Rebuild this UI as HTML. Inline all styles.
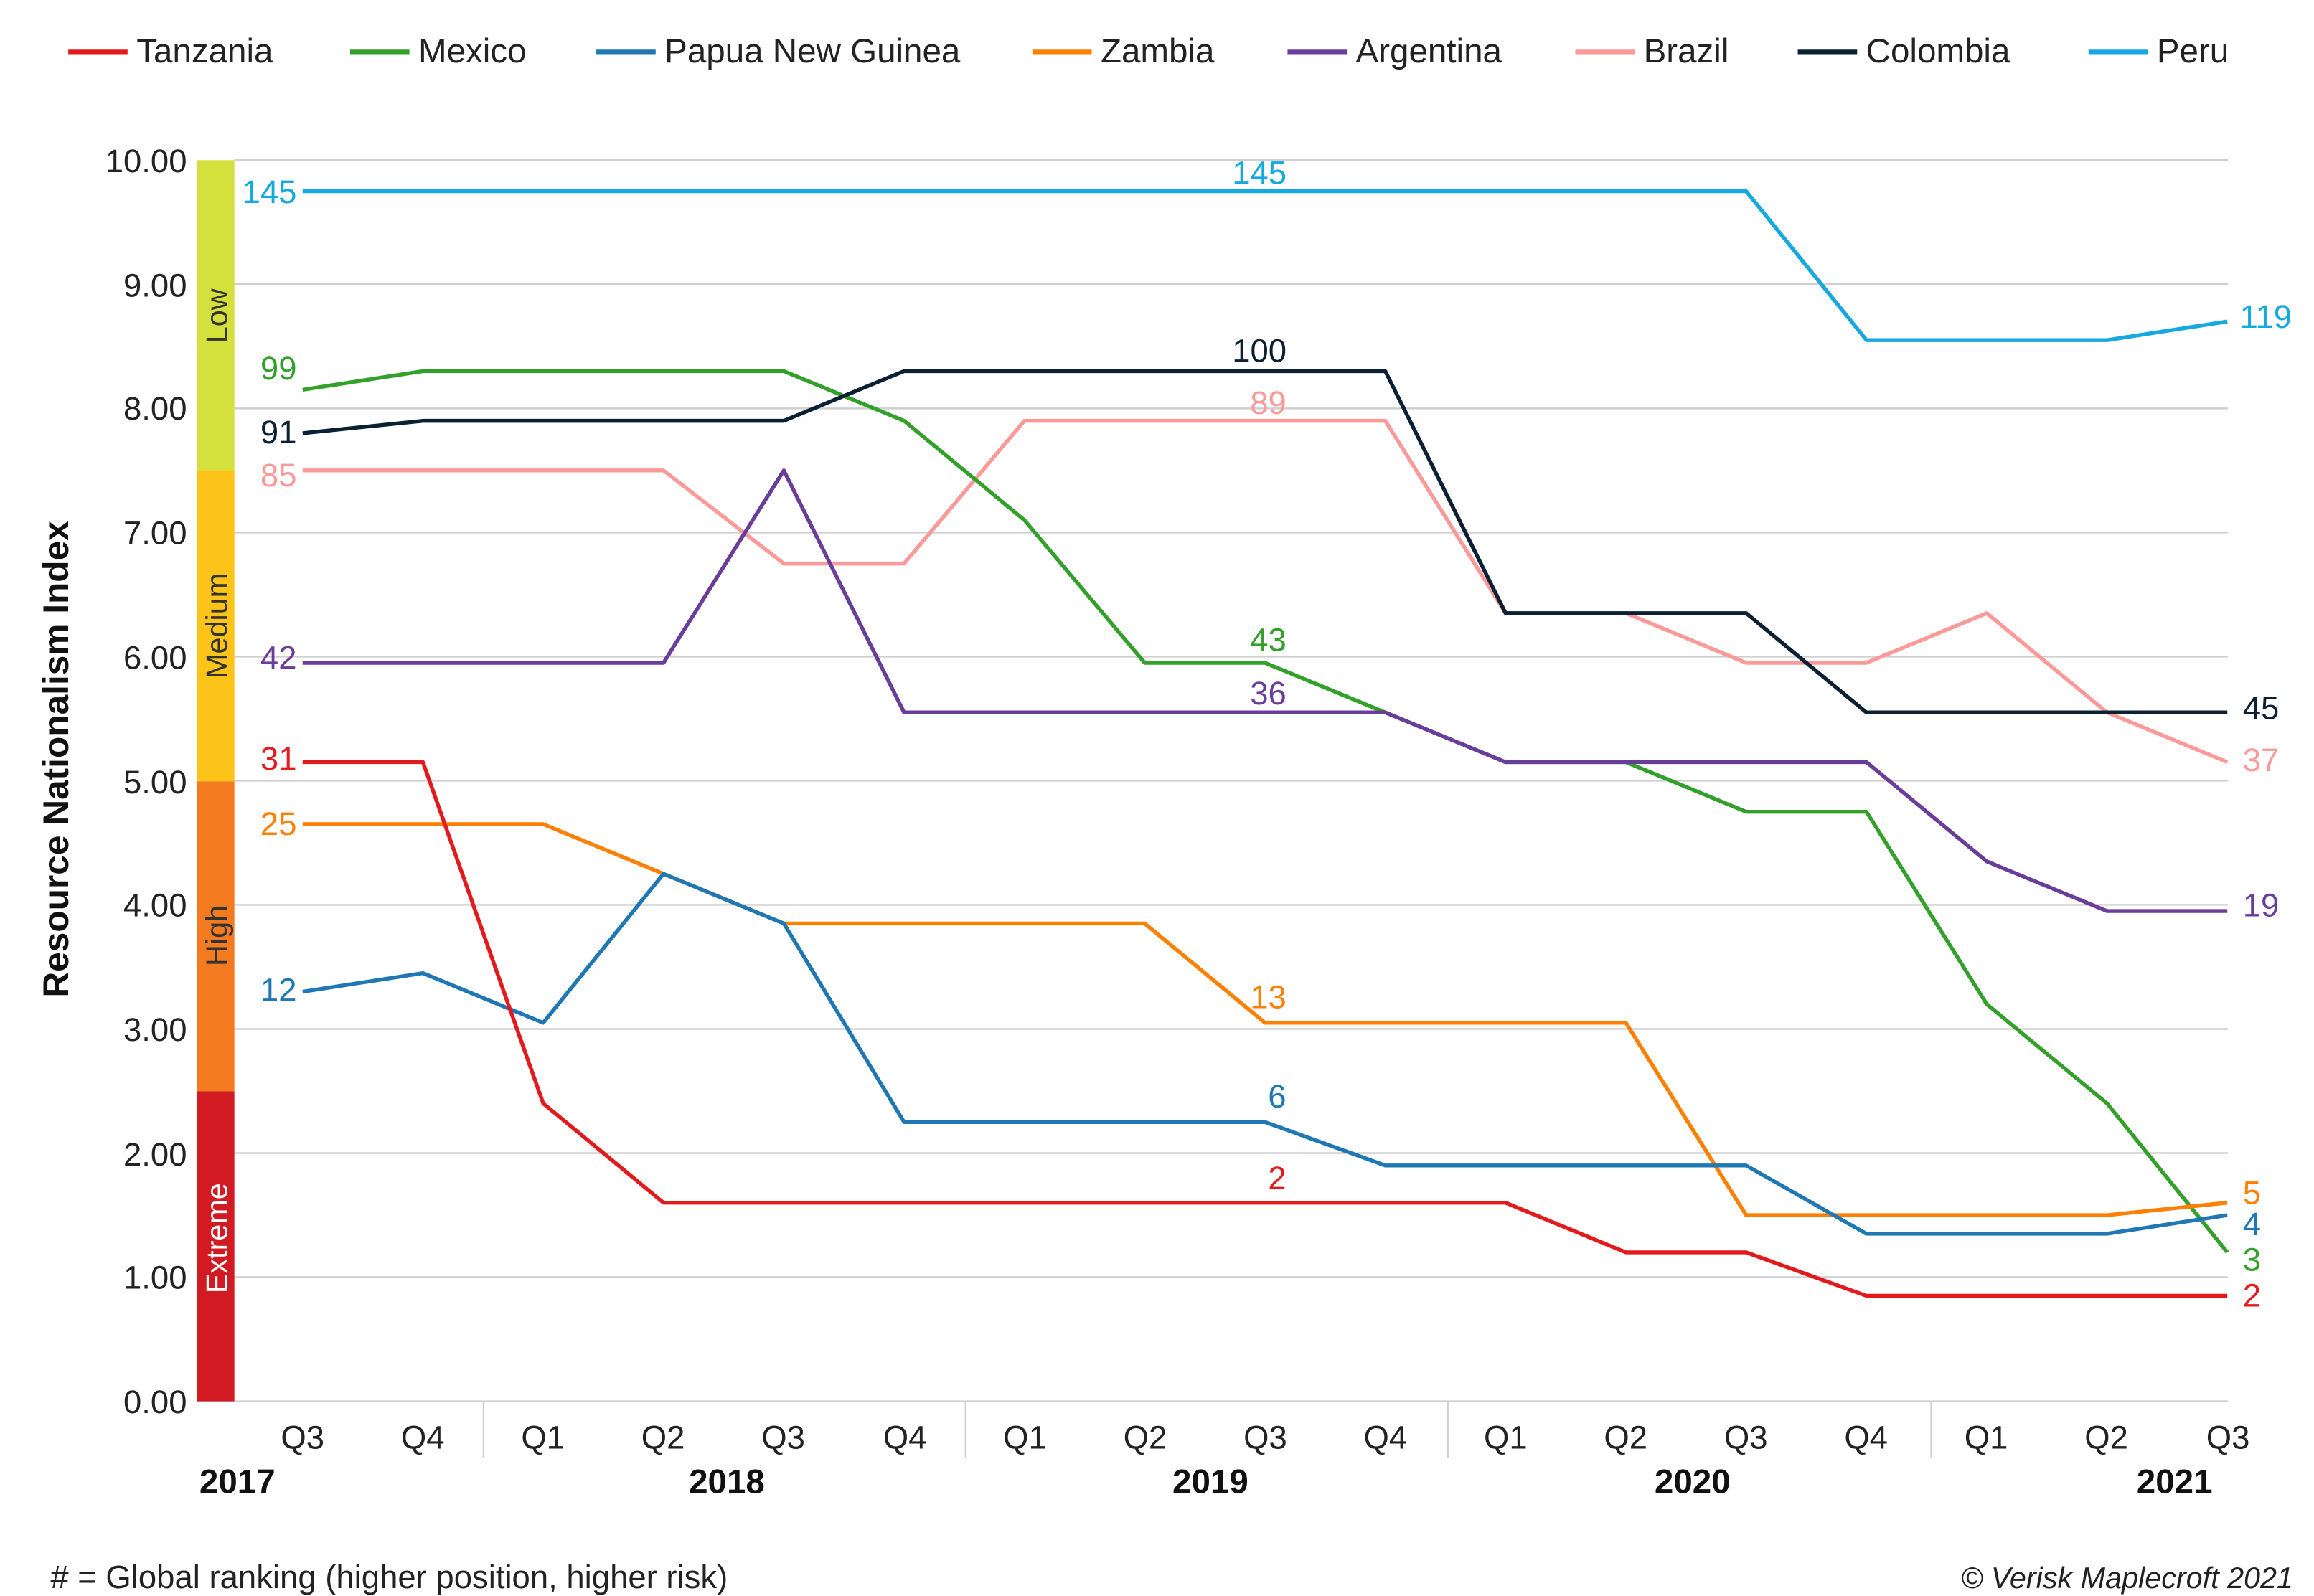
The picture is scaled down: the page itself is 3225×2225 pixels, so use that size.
<!DOCTYPE html>
<html><head><meta charset="utf-8"><style>
html,body{margin:0;padding:0;background:#fff}
svg{display:block}
text{font-family:"Liberation Sans",sans-serif}
</style></head><body>
<svg width="3225" height="2225" viewBox="0 0 1560 1076.3" xmlns="http://www.w3.org/2000/svg">
<rect width="1560" height="1077" fill="#fff"/>
<g font-size="23" fill="#222">
<line x1="46" y1="35" x2="86" y2="35" stroke="#e31a1c" stroke-width="3"/><text x="92" y="42">Tanzania</text>
<line x1="236" y1="35" x2="276" y2="35" stroke="#33a02c" stroke-width="3"/><text x="282" y="42">Mexico</text>
<line x1="402" y1="35" x2="442" y2="35" stroke="#1f78b4" stroke-width="3"/><text x="448" y="42">Papua New Guinea</text>
<line x1="696" y1="35" x2="736" y2="35" stroke="#ff7f00" stroke-width="3"/><text x="742" y="42">Zambia</text>
<line x1="868" y1="35" x2="908" y2="35" stroke="#6a3d9a" stroke-width="3"/><text x="914" y="42">Argentina</text>
<line x1="1062" y1="35" x2="1102" y2="35" stroke="#fb9a99" stroke-width="3"/><text x="1108" y="42">Brazil</text>
<line x1="1212" y1="35" x2="1252" y2="35" stroke="#0b2133" stroke-width="3"/><text x="1258" y="42">Colombia</text>
<line x1="1408" y1="35" x2="1448" y2="35" stroke="#16a9e0" stroke-width="3"/><text x="1454" y="42">Peru</text>
</g>
<g stroke="#cfcfcf" stroke-width="1.2">
<line x1="158" x2="1502" y1="108" y2="108"/><line x1="158" x2="1502" y1="191.7" y2="191.7"/>
<line x1="158" x2="1502" y1="275.4" y2="275.4"/><line x1="158" x2="1502" y1="359.1" y2="359.1"/>
<line x1="158" x2="1502" y1="442.8" y2="442.8"/><line x1="158" x2="1502" y1="526.5" y2="526.5"/>
<line x1="158" x2="1502" y1="610.2" y2="610.2"/><line x1="158" x2="1502" y1="693.9" y2="693.9"/>
<line x1="158" x2="1502" y1="777.6" y2="777.6"/><line x1="158" x2="1502" y1="861.3" y2="861.3"/>
<line x1="133" x2="1502" y1="945" y2="945"/>
<line x1="326" x2="326" y1="945" y2="983"/><line x1="651" x2="651" y1="945" y2="983"/>
<line x1="976" x2="976" y1="945" y2="983"/><line x1="1302" x2="1302" y1="945" y2="983"/>
</g>
<rect x="133" y="108" width="25" height="209" fill="#d4e03c"/>
<rect x="133" y="317" width="25" height="210" fill="#fcc418"/>
<rect x="133" y="527" width="25" height="209" fill="#f47b20"/>
<rect x="133" y="736" width="25" height="209" fill="#d11a21"/>
<g font-size="20">
<text transform="translate(153,213) rotate(-90)" text-anchor="middle" fill="#333">Low</text>
<text transform="translate(153,422) rotate(-90)" text-anchor="middle" fill="#333">Medium</text>
<text transform="translate(153,631) rotate(-90)" text-anchor="middle" fill="#333">High</text>
<text transform="translate(153,835) rotate(-90)" text-anchor="middle" fill="#fff">Extreme</text>
</g>
<g font-size="22" fill="#222" text-anchor="end">
<text x="126" y="116">10.00</text><text x="126" y="200">9.00</text><text x="126" y="283">8.00</text>
<text x="126" y="367">7.00</text><text x="126" y="451">6.00</text><text x="126" y="535">5.00</text>
<text x="126" y="618">4.00</text><text x="126" y="702">3.00</text><text x="126" y="786">2.00</text>
<text x="126" y="869">1.00</text><text x="126" y="953">0.00</text>
</g>
<text transform="translate(46,512) rotate(-90)" text-anchor="middle" font-size="24" font-weight="bold" fill="#111">Resource Nationalism Index</text>
<g font-size="22" fill="#222" text-anchor="middle">
<text x="204" y="977">Q3</text><text x="285" y="977">Q4</text><text x="366" y="977">Q1</text><text x="447" y="977">Q2</text>
<text x="528" y="977">Q3</text><text x="610" y="977">Q4</text><text x="691" y="977">Q1</text><text x="772" y="977">Q2</text>
<text x="853" y="977">Q3</text><text x="934" y="977">Q4</text><text x="1015" y="977">Q1</text><text x="1096" y="977">Q2</text>
<text x="1177" y="977">Q3</text><text x="1258" y="977">Q4</text><text x="1339" y="977">Q1</text><text x="1420" y="977">Q2</text>
<text x="1502" y="977">Q3</text>
</g>
<g font-size="23" font-weight="bold" fill="#111" text-anchor="middle">
<text x="160" y="1007">2017</text><text x="490" y="1007">2018</text><text x="816" y="1007">2019</text>
<text x="1141" y="1007">2020</text><text x="1466" y="1007">2021</text>
</g>
<g transform="matrix(1,0,0,-83.7,0,945)" fill="none" stroke-width="5.4" stroke-linejoin="round">
<polyline vector-effect="non-scaling-stroke" stroke="#16a9e0" points="204,9.75 285.1,9.75 366.2,9.75 447.3,9.75 528.4,9.75 609.5,9.75 690.6,9.75 771.7,9.75 852.8,9.75 933.9,9.75 1015,9.75 1096.1,9.75 1177.2,9.75 1258.3,8.55 1339.4,8.55 1420.5,8.55 1501.6,8.7"/>
<polyline vector-effect="non-scaling-stroke" stroke="#fb9a99" points="204,7.5 285.1,7.5 366.2,7.5 447.3,7.5 528.4,6.75 609.5,6.75 690.6,7.9 771.7,7.9 852.8,7.9 933.9,7.9 1015,6.35 1096.1,6.35 1177.2,5.95 1258.3,5.95 1339.4,6.35 1420.5,5.55 1501.6,5.15"/>
<polyline vector-effect="non-scaling-stroke" stroke="#33a02c" points="204,8.15 285.1,8.3 366.2,8.3 447.3,8.3 528.4,8.3 609.5,7.9 690.6,7.1 771.7,5.95 852.8,5.95 933.9,5.55 1015,5.15 1096.1,5.15 1177.2,4.75 1258.3,4.75 1339.4,3.2 1420.5,2.4 1501.6,1.2"/>
<polyline vector-effect="non-scaling-stroke" stroke="#0b2133" points="204,7.8 285.1,7.9 366.2,7.9 447.3,7.9 528.4,7.9 609.5,8.3 690.6,8.3 771.7,8.3 852.8,8.3 933.9,8.3 1015,6.35 1096.1,6.35 1177.2,6.35 1258.3,5.55 1339.4,5.55 1420.5,5.55 1501.6,5.55"/>
<polyline vector-effect="non-scaling-stroke" stroke="#6a3d9a" points="204,5.95 285.1,5.95 366.2,5.95 447.3,5.95 528.4,7.5 609.5,5.55 690.6,5.55 771.7,5.55 852.8,5.55 933.9,5.55 1015,5.15 1096.1,5.15 1177.2,5.15 1258.3,5.15 1339.4,4.35 1420.5,3.95 1501.6,3.95"/>
<polyline vector-effect="non-scaling-stroke" stroke="#ff7f00" points="204,4.65 285.1,4.65 366.2,4.65 447.3,4.25 528.4,3.85 609.5,3.85 690.6,3.85 771.7,3.85 852.8,3.05 933.9,3.05 1015,3.05 1096.1,3.05 1177.2,1.5 1258.3,1.5 1339.4,1.5 1420.5,1.5 1501.6,1.6"/>
<polyline vector-effect="non-scaling-stroke" stroke="#1f78b4" points="204,3.3 285.1,3.45 366.2,3.05 447.3,4.25 528.4,3.85 609.5,2.25 690.6,2.25 771.7,2.25 852.8,2.25 933.9,1.9 1015,1.9 1096.1,1.9 1177.2,1.9 1258.3,1.35 1339.4,1.35 1420.5,1.35 1501.6,1.5"/>
<polyline vector-effect="non-scaling-stroke" stroke="#e31a1c" points="204,5.15 285.1,5.15 366.2,2.4 447.3,1.6 528.4,1.6 609.5,1.6 690.6,1.6 771.7,1.6 852.8,1.6 933.9,1.6 1015,1.6 1096.1,1.2 1177.2,1.2 1258.3,0.85 1339.4,0.85 1420.5,0.85 1501.6,0.85"/>
</g>
<g font-size="22">
<text x="200" y="137" text-anchor="end" fill="#16a9e0">145</text>
<text x="849" y="124" text-anchor="middle" fill="#16a9e0">145</text>
<text x="1510" y="221" fill="#16a9e0">119</text>
<text x="200" y="256" text-anchor="end" fill="#33a02c">99</text>
<text x="200" y="299" text-anchor="end" fill="#0b2133">91</text>
<text x="200" y="328" text-anchor="end" fill="#fb9a99">85</text>
<text x="200" y="451" text-anchor="end" fill="#6a3d9a">42</text>
<text x="200" y="519" text-anchor="end" fill="#e31a1c">31</text>
<text x="200" y="563" text-anchor="end" fill="#ff7f00">25</text>
<text x="200" y="675" text-anchor="end" fill="#1f78b4">12</text>
<text x="849" y="244" text-anchor="middle" fill="#0b2133">100</text>
<text x="855" y="279" text-anchor="middle" fill="#fb9a99">89</text>
<text x="855" y="439" text-anchor="middle" fill="#33a02c">43</text>
<text x="855" y="475" text-anchor="middle" fill="#6a3d9a">36</text>
<text x="855" y="680" text-anchor="middle" fill="#ff7f00">13</text>
<text x="861" y="747" text-anchor="middle" fill="#1f78b4">6</text>
<text x="861" y="802" text-anchor="middle" fill="#e31a1c">2</text>
<text x="1512" y="485" fill="#0b2133">45</text>
<text x="1512" y="520" fill="#fb9a99">37</text>
<text x="1512" y="618" fill="#6a3d9a">19</text>
<text x="1512" y="812" fill="#ff7f00">5</text>
<text x="1512" y="833" fill="#1f78b4">4</text>
<text x="1512" y="857" fill="#33a02c">3</text>
<text x="1512" y="881" fill="#e31a1c">2</text>
</g>
<text x="34" y="1071" font-size="22" fill="#222"># = Global ranking (higher position, higher risk)</text>
<text x="1546" y="1071" font-size="20" font-style="italic" fill="#222" text-anchor="end">© Verisk Maplecroft 2021</text>
</svg>
</body></html>
